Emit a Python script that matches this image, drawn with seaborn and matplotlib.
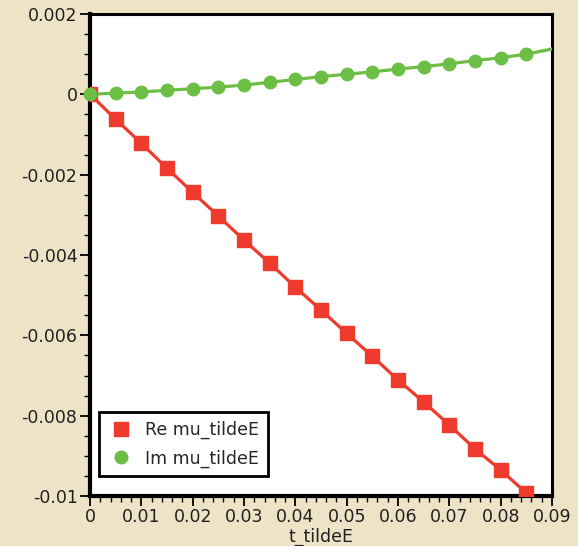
import numpy as np
import pandas as pd
import matplotlib
matplotlib.use("Agg")
import matplotlib.pyplot as plt
import seaborn as sns
from matplotlib.ticker import MultipleLocator

# ---- data ----
t_markers = [0.0, 0.005, 0.01, 0.015, 0.02, 0.025, 0.03, 0.035, 0.04, 0.045,
             0.05, 0.055, 0.06, 0.065, 0.07, 0.075, 0.08, 0.085]
re_mu = [0.0, -0.00062, -0.00122, -0.00184, -0.00244, -0.00303, -0.00363, -0.0042,
         -0.0048, -0.00537, -0.00595, -0.00652, -0.00711, -0.00766, -0.00823,
         -0.00883, -0.00935, -0.00993]
im_mu = [0.0, 0.00003, 0.00006, 0.0001, 0.00014, 0.00018, 0.00023, 0.0003,
         0.00037, 0.00044, 0.0005, 0.00056, 0.00063, 0.00069, 0.00076,
         0.00084, 0.00091, 0.00100]
t_line = t_markers + [0.09]
re_line = re_mu + [-0.01053]
im_line = im_mu + [0.00113]

x_ticks = [0, 0.01, 0.02, 0.03, 0.04, 0.05, 0.06, 0.07, 0.08, 0.09]
x_tick_labels = ["0", "0.01", "0.02", "0.03", "0.04", "0.05", "0.06", "0.07", "0.08", "0.09"]
y_ticks = [0.002, 0, -0.002, -0.004, -0.006, -0.008, -0.01]
y_tick_labels = ["0.002", "0", "-0.002", "-0.004", "-0.006", "-0.008", "-0.01"]
labels = ["Re mu_tildeE", "Im mu_tildeE"]
x_label = "t_tildeE"

RED = "#EE3B2D"
GREEN = "#6CBE45"
BG = "#EEE3C7"

sns.set_style("white")
plt.rcParams["font.family"] = ["DejaVu Sans"]

fig = plt.figure(figsize=(5.78, 5.46), dpi=100, facecolor=BG)
ax = fig.add_axes([90 / 578, 50 / 546, 462 / 578, 482 / 546])
ax.set_facecolor("white")

lines_df = pd.DataFrame({"t": t_line, "re": re_line, "im": im_line})
mk_df = pd.DataFrame({"t": t_markers, "re": re_mu, "im": im_mu})

sns.lineplot(data=lines_df, x="t", y="re", ax=ax, color=RED, linewidth=2.3, legend=False, zorder=3)
sns.lineplot(data=lines_df, x="t", y="im", ax=ax, color=GREEN, linewidth=2.3, legend=False, zorder=3)
ax.plot(mk_df["t"], mk_df["re"], linestyle="none", marker="s", markersize=9.5,
        color=RED, label=labels[0], zorder=4, clip_on=True)
ax.plot(mk_df["t"], mk_df["im"], linestyle="none", marker="o", markersize=9,
        color=GREEN, label=labels[1], zorder=5, clip_on=False)

ax.set_xlim(0, 0.09)
ax.set_ylim(-0.01, 0.002)
ax.set_xticks(x_ticks)
ax.set_xticklabels(x_tick_labels)
ax.set_yticks(y_ticks)
ax.set_yticklabels(y_tick_labels)
ax.xaxis.set_minor_locator(MultipleLocator(0.002))
ax.yaxis.set_minor_locator(MultipleLocator(0.0005))
ax.tick_params(axis="both", which="major", direction="out", length=7, width=1.3,
               labelsize=12.5, color="black", labelcolor="#202020", pad=2,
               bottom=True, left=True, top=False, right=False)
ax.tick_params(axis="both", which="minor", direction="out", length=4, width=1.0,
               color="black", bottom=True, left=True, top=False, right=False)

ax.set_xlabel(x_label, fontsize=12.5, color="#202020", labelpad=1)
ax.set_ylabel("")

for side, w in [("left", 3.0), ("bottom", 3.0), ("top", 2.2), ("right", 2.2)]:
    ax.spines[side].set_visible(True)
    ax.spines[side].set_linewidth(w)
    ax.spines[side].set_color("black")

leg = ax.legend(loc="lower left", bbox_to_anchor=(0.0195, 0.041), borderaxespad=0,
                fontsize=12.5, frameon=True, fancybox=False, framealpha=1,
                edgecolor="black", handlelength=1.5, handletextpad=0.65,
                borderpad=0.5, labelspacing=0.6)
leg.get_frame().set_linewidth(2.0)

fig.savefig("out.png", dpi=100, facecolor=BG)
